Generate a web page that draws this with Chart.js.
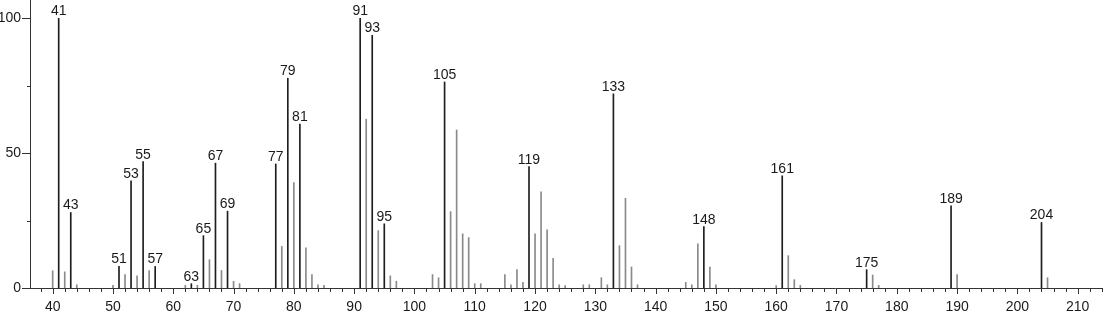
<!DOCTYPE html>
<html>
<head>
<meta charset="utf-8">
<script src="https://cdn.jsdelivr.net/npm/chart.js@4/dist/chart.umd.min.js"></script>
<style>
html,body{margin:0;padding:0;background:#fff;}
#wrap{width:1103px;height:313px;}
</style>
</head>
<body>
<div id="wrap"><canvas id="c" width="1103" height="313"></canvas></div>
<script>
const mz = [40,41,42,43,44,50,51,52,53,54,55,56,57,62,63,64,65,66,67,68,69,70,71,77,78,79,80,81,82,83,84,85,91,92,93,94,95,96,97,103,104,105,106,107,108,109,110,111,115,116,117,118,119,120,121,122,123,124,125,128,129,131,132,133,134,135,136,137,145,146,147,148,149,150,160,161,162,163,164,175,176,177,189,190,204,205];
const intensity = [6.4,100,6.0,28,1.2,1.0,8.0,5.0,39.7,4.5,46.9,6.5,8.0,1.0,1.6,1.0,19.4,10.5,46.3,6.5,28.5,2.5,1.6,46,15.4,77.8,39.1,60.8,14.9,5,1.2,1.0,100,62.6,93.7,21.3,23.8,4.5,2.5,5,3.8,76.4,28.3,58.6,20.1,18.7,1.6,1.6,5,1.2,6.8,2.1,45,20.1,35.7,21.6,11,1.2,0.9,1.2,1.2,3.8,1.2,72,15.7,33.3,7.8,1.2,2.1,1.2,16.4,22.8,7.8,1.2,0.9,41.6,12,3.1,1.0,6.8,4.8,1.0,30.5,5,24.3,3.8];
const labeledPeaks = [41,43,51,53,55,57,63,65,67,69,77,79,81,91,93,95,105,119,133,148,161,175,189,204];
const xTicks = [40,50,60,70,80,90,100,110,120,130,140,150,160,170,180,190,200,210];
const yTicks = [0,50,100];
const yMinorTicks = [25,75];

const FONT = '"Liberation Sans", Arial, sans-serif';
const points = mz.map((m,i)=>({x:m,y:intensity[i]}));
const colors = mz.map(m => labeledPeaks.includes(m) ? '#1e1e1e' : '#8a8a8a');

const extras = {
  id:'extras',
  afterDraw(chart){
    const ctx = chart.ctx;
    const xs = chart.scales.x, ys = chart.scales.y;
    const y0 = chart.chartArea.bottom;
    const x0 = chart.chartArea.left;
    ctx.save();
    ctx.strokeStyle = '#333';
    ctx.lineWidth = 1;
    for (let v = 38; v <= 214; v += 2){
      const px = Math.round(xs.getPixelForValue(v)) + 0.5;
      const len = (v % 10 === 0) ? 6 : 4;
      ctx.beginPath(); ctx.moveTo(px, y0); ctx.lineTo(px, y0 + len); ctx.stroke();
    }
    yTicks.forEach(v=>{
      const py = Math.round(ys.getPixelForValue(v)) + 0.5;
      ctx.beginPath(); ctx.moveTo(x0 - 8, py); ctx.lineTo(x0, py); ctx.stroke();
    });
    yMinorTicks.forEach(v=>{
      const py = Math.round(ys.getPixelForValue(v)) + 0.5;
      ctx.beginPath(); ctx.moveTo(x0 - 3, py); ctx.lineTo(x0, py); ctx.stroke();
    });
    ctx.fillStyle = '#1a1a1a';
    ctx.font = '14px ' + FONT;
    ctx.textAlign = 'center';
    ctx.textBaseline = 'alphabetic';
    const meta = chart.getDatasetMeta(0);
    meta.data.forEach((bar, i)=>{
      if (labeledPeaks.includes(mz[i])){
        ctx.fillText(String(mz[i]), bar.x, bar.y - 3);
      }
    });
    ctx.restore();
  }
};

new Chart(document.getElementById('c'), {
  type:'bar',
  data:{datasets:[{data:points, backgroundColor:colors, borderWidth:0, barThickness:1, grouped:false}]},
  options:{
    responsive:false,
    animation:false,
    layout:{padding:0},
    plugins:{legend:{display:false}, tooltip:{enabled:false}},
    scales:{
      x:{
        type:'linear', min:36.24, max:214.2, offset:false,
        grid:{display:false},
        border:{display:true, color:'#333', width:1},
        ticks:{color:'#1a1a1a', font:{family:FONT, size:14}, padding:3, maxRotation:0, autoSkip:false},
        afterBuildTicks(s){ s.ticks = xTicks.map(v=>({value:v})); },
        afterFit(s){ s.height = 25; s.paddingLeft = 0; s.paddingRight = 0; }
      },
      y:{
        min:0, max:106.8,
        grid:{display:false},
        border:{display:true, color:'#333', width:1},
        ticks:{color:'#1a1a1a', font:{family:FONT, size:14}, padding:1},
        afterBuildTicks(s){ s.ticks = yTicks.map(v=>({value:v})); },
        afterFit(s){ s.width = 30; s.paddingTop = 0; s.paddingBottom = 0; }
      }
    }
  },
  plugins:[extras]
});
</script>
</body>
</html>
